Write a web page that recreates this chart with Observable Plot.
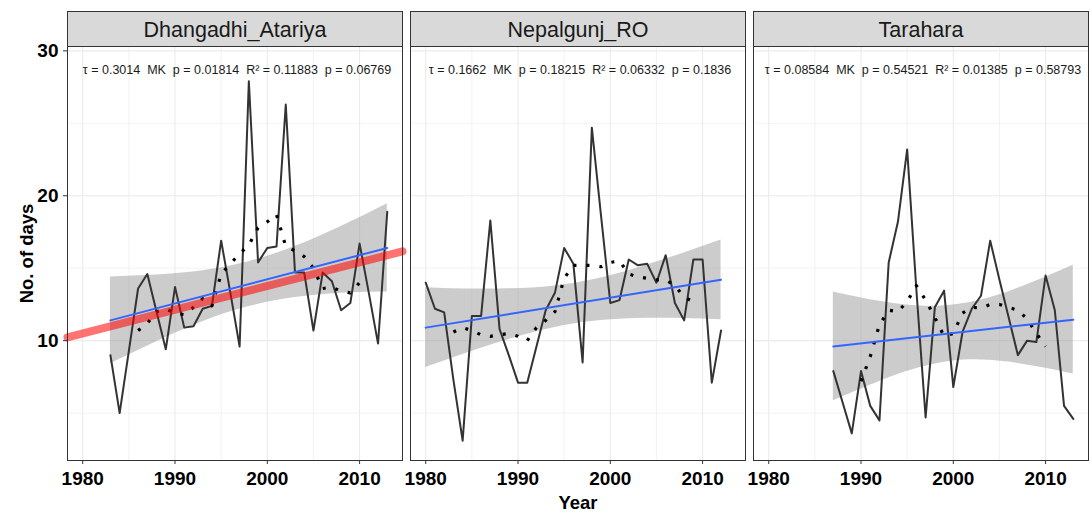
<!DOCTYPE html>
<html><head><meta charset="utf-8">
<script src="https://cdn.jsdelivr.net/npm/d3@7"></script>
<script src="https://cdn.jsdelivr.net/npm/@observablehq/plot@0.6"></script>
<style>
html,body{margin:0;padding:0;background:#fff;}
#chart{position:relative;width:1089px;height:513px;}
</style></head><body><div id="chart"></div>
<script>
// ---- data ----
const stations = ["Dhangadhi_Atariya", "Nepalgunj_RO", "Tarahara"];

// observed yearly values
const dhangadhiStart = 1983;
const dhangadhiValues = [9.0, 5.0, 9.3, 13.6, 14.6, 12.0, 9.4, 13.7, 10.9, 11.0, 12.2, 12.4, 16.9, 13.3, 9.6, 27.9, 15.4, 16.4, 16.5, 26.3, 14.7, 14.7, 10.7, 14.7, 14.1, 12.1, 12.6, 16.7, 13.3, 9.8, 18.9];
const nepalgunjStart = 1980;
const nepalgunjValues = [14.0, 12.2, 11.95, 7.3, 3.1, 11.7, 11.7, 18.3, 10.8, 9.0, 7.1, 7.1, 9.6, 12.1, 13.3, 16.4, 15.3, 8.5, 24.7, 18.6, 12.6, 12.8, 15.6, 15.2, 15.3, 14.0, 15.9, 12.6, 11.4, 15.6, 15.6, 7.1, 10.7];
const taraharaStart = 1987;
const taraharaValues = [7.9, 5.75, 3.6, 7.9, 5.5, 4.5, 15.4, 18.2, 23.2, 13.5, 4.7, 12.3, 13.45, 6.8, 10.6, 12.2, 13.1, 16.9, 14.2, 11.6, 9.0, 10.0, 9.9, 14.5, 12.1, 5.5, 4.6];

// moving average (dotted)
const dhangadhiMAStart = 1986;
const dhangadhiMA = [10.7, 11.2, 12.0, 12.2, 11.9, 11.8, 12.3, 12.9, 12.4, 14.6, 15.3, 16.0, 16.6, 17.8, 18.2, 18.7, 16.5, 16.2, 15.8, 15.0, 13.6, 13.7, 13.4, 13.3, 14.0];
const nepalgunjMAStart = 1983;
const nepalgunjMA = [10.6, 10.9, 10.7, 10.4, 10.3, 10.4, 10.5, 10.3, 10.0, 10.9, 11.4, 12.0, 14.3, 15.2, 15.2, 15.2, 15.1, 15.4, 15.5, 14.6, 14.4, 14.3, 14.2, 14.2, 13.8, 13.0, 12.7];
const taraharaMAStart = 1990;
const taraharaMA = [7.2, 8.9, 11.1, 12.1, 12.0, 12.7, 13.8, 12.8, 11.6, 10.3, 10.5, 11.9, 12.3, 12.25, 12.5, 12.5, 12.3, 12.1, 11.5, 10.5, 9.6];

// linear fit (blue) and its confidence band
const dhangadhiFitYears = [1983, 2013], dhangadhiFit = [11.4, 16.4];
const nepalgunjFitYears = [1980, 2012], nepalgunjFit = [10.9, 14.2];
const taraharaFitYears = [1987, 2013], taraharaFit = [9.6, 11.45];

const dhangadhiBandYears = [1983, 1988, 1993, 1998, 2003, 2008, 2013];
const dhangadhiBandLo = [8.4, 9.93, 11.31, 12.35, 12.97, 13.27, 13.35];
const dhangadhiBandHi = [14.4, 14.53, 14.83, 15.45, 16.49, 17.87, 19.45];
const nepalgunjBandYears = [1980, 1984, 1988, 1992, 1996, 2000, 2004, 2008, 2012];
const nepalgunjBandLo = [8.15, 9.05, 9.89, 10.62, 11.15, 11.44, 11.54, 11.53, 11.45];
const nepalgunjBandHi = [13.65, 13.57, 13.57, 13.66, 13.95, 14.48, 15.22, 16.05, 16.95];
const taraharaBandYears = [1987, 1990, 1994, 1997, 2000, 2003, 2006, 2010, 2013];
const taraharaBandLo = [5.85, 6.67, 7.67, 8.24, 8.6, 8.67, 8.52, 8.1, 7.7];
const taraharaBandHi = [13.35, 12.95, 12.53, 12.38, 12.46, 12.81, 13.38, 14.38, 15.2];

// Sen's slope trend line (red), Dhangadhi only, across the panel
const senYears = [1978.35, 2014.65];
const senValues = [10.23, 16.16];

// statistics
const tauValues = ["0.3014", "0.1662", "0.08584"];
const mkPValues = ["0.01814", "0.18215", "0.54521"];
const r2Values = ["0.11883", "0.06332", "0.01385"];
const lmPValues = ["0.06769", "0.1836", "0.58793"];

// axis ticks
const majorX = [1980, 1990, 2000, 2010];
const minorX = [1985, 1995, 2005];
const majorY = [10, 20, 30];
const minorY = [5, 15, 25];

// ---- tables ----
const seq = (station, start, vals) => vals.map((v, i) => ({station, year: start + i, value: v}));
const pairs = (station, years, vals) => vals.map((v, i) => ({station, year: years[i], value: v}));
const band = (station, years, lo, hi) => years.map((y, i) => ({station, year: y, lo: lo[i], hi: hi[i]}));

const obsRows = [
  ...seq(stations[0], dhangadhiStart, dhangadhiValues),
  ...seq(stations[1], nepalgunjStart, nepalgunjValues),
  ...seq(stations[2], taraharaStart, taraharaValues)
];
const maRows = [
  ...seq(stations[0], dhangadhiMAStart, dhangadhiMA),
  ...seq(stations[1], nepalgunjMAStart, nepalgunjMA),
  ...seq(stations[2], taraharaMAStart, taraharaMA)
];
const fitRows = [
  ...pairs(stations[0], dhangadhiFitYears, dhangadhiFit),
  ...pairs(stations[1], nepalgunjFitYears, nepalgunjFit),
  ...pairs(stations[2], taraharaFitYears, taraharaFit)
];
const bandRows = [
  ...band(stations[0], dhangadhiBandYears, dhangadhiBandLo, dhangadhiBandHi),
  ...band(stations[1], nepalgunjBandYears, nepalgunjBandLo, nepalgunjBandHi),
  ...band(stations[2], taraharaBandYears, taraharaBandLo, taraharaBandHi)
];
const senRows = pairs(stations[0], senYears, senValues);
const statRows = stations.map((s, i) => ({
  station: s,
  label: `\u03C4 = ${tauValues[i]}  MK  p = ${mkPValues[i]}  R\u00B2 = ${r2Values[i]}  p = ${lmPValues[i]}`
}));

const FONT = "'Liberation Sans', Arial, sans-serif";

const chart = Plot.plot({
  width: 1089,
  height: 513,
  marginLeft: 67,
  marginRight: 1,
  marginTop: 46,
  marginBottom: 53,
  style: {fontFamily: FONT, background: "white", overflow: "visible"},
  x: {domain: [1978.35, 2014.65]},
  y: {domain: [1.73, 30.3]},
  fx: {domain: stations, paddingInner: 0.024, paddingOuter: 0, axis: null, label: null},
  marks: [
    Plot.gridX({ticks: minorX, stroke: "#EBEBEB", strokeOpacity: 1, strokeWidth: 0.6}),
    Plot.gridY({ticks: minorY, stroke: "#EBEBEB", strokeOpacity: 1, strokeWidth: 0.6}),
    Plot.gridX({ticks: majorX, stroke: "#EBEBEB", strokeOpacity: 1, strokeWidth: 1.1}),
    Plot.gridY({ticks: majorY, stroke: "#EBEBEB", strokeOpacity: 1, strokeWidth: 1.1}),
    Plot.areaY(bandRows, {x: "year", y1: "lo", y2: "hi", fx: "station", fill: "#999999", fillOpacity: 0.5, curve: "natural"}),
    Plot.line(obsRows, {x: "year", y: "value", fx: "station", stroke: "#333333", strokeWidth: 2}),
    Plot.line(maRows, {x: "year", y: "value", fx: "station", stroke: "black", strokeWidth: 3.2, strokeDasharray: "3,10", strokeLinecap: "butt"}),
    Plot.line(senRows, {x: "year", y: "value", fx: "station", stroke: "#FF0000", strokeOpacity: 0.55, strokeWidth: 8}),
    Plot.line(fitRows, {x: "year", y: "value", fx: "station", stroke: "#3366FF", strokeWidth: 2}),
    Plot.text(statRows, {fx: "station", text: "label", frameAnchor: "top", dy: 23, dx: 2, lineAnchor: "middle", fontSize: 12.5, fill: "#1a1a1a"}),
    Plot.frame({stroke: "#333333", strokeWidth: 1}),
    Plot.axisX({ticks: majorX, tickFormat: "d", tickSize: 4, tickPadding: 7, fontSize: 19, fontWeight: "bold", label: null, stroke: "#333333", fill: "black"}),
    Plot.axisY({ticks: majorY, tickFormat: "d", tickSize: 4, tickPadding: 5, fontSize: 19, fontWeight: "bold", label: null, stroke: "#333333", fill: "black"})
  ]
});

const holder = document.getElementById("chart");
holder.append(chart);

// ---- facet strips and axis titles ----
const svg = chart.tagName.toLowerCase() === "svg" ? chart : chart.querySelector("svg");
const sbox = svg.getBoundingClientRect();
const frameEls = Array.from(svg.querySelectorAll('[aria-label="frame"]'))
  .flatMap(el => el.tagName.toLowerCase() === "rect" ? [el] : Array.from(el.querySelectorAll("rect")));
const boxes = frameEls.map(f => f.getBoundingClientRect())
  .map(b => ({x: b.x - sbox.x, y: b.y - sbox.y, w: b.width, h: b.height}))
  .sort((a, b) => a.x - b.x);

const s = d3.select(svg);
const STRIP = 35;
const strips = s.append("g").attr("aria-label", "strips");
boxes.forEach((b, i) => {
  strips.append("rect")
    .attr("x", b.x).attr("y", b.y - STRIP).attr("width", b.w).attr("height", STRIP)
    .attr("fill", "#D9D9D9").attr("stroke", "#333333").attr("stroke-width", 1);
  strips.append("text")
    .attr("x", b.x + b.w / 2).attr("y", b.y - STRIP / 2)
    .attr("text-anchor", "middle").attr("dy", "0.35em")
    .attr("font-family", FONT).attr("font-size", 21.5).attr("fill", "#1A1A1A")
    .text(stations[i]);
});
if (boxes.length) {
  const left = boxes[0].x, right = boxes[boxes.length - 1].x + boxes[boxes.length - 1].w;
  const top = boxes[0].y, bottom = boxes[0].y + boxes[0].h;
  s.append("text")
    .attr("x", (left + right) / 2).attr("y", 509)
    .attr("text-anchor", "middle")
    .attr("font-family", FONT).attr("font-size", 18.5).attr("font-weight", "bold").attr("fill", "black")
    .text("Year");
  s.append("text")
    .attr("transform", `translate(33,${(top + bottom) / 2}) rotate(-90)`)
    .attr("text-anchor", "middle")
    .attr("font-family", FONT).attr("font-size", 18.5).attr("font-weight", "bold").attr("fill", "black")
    .text("No. of days");
}
</script>
</body></html>
